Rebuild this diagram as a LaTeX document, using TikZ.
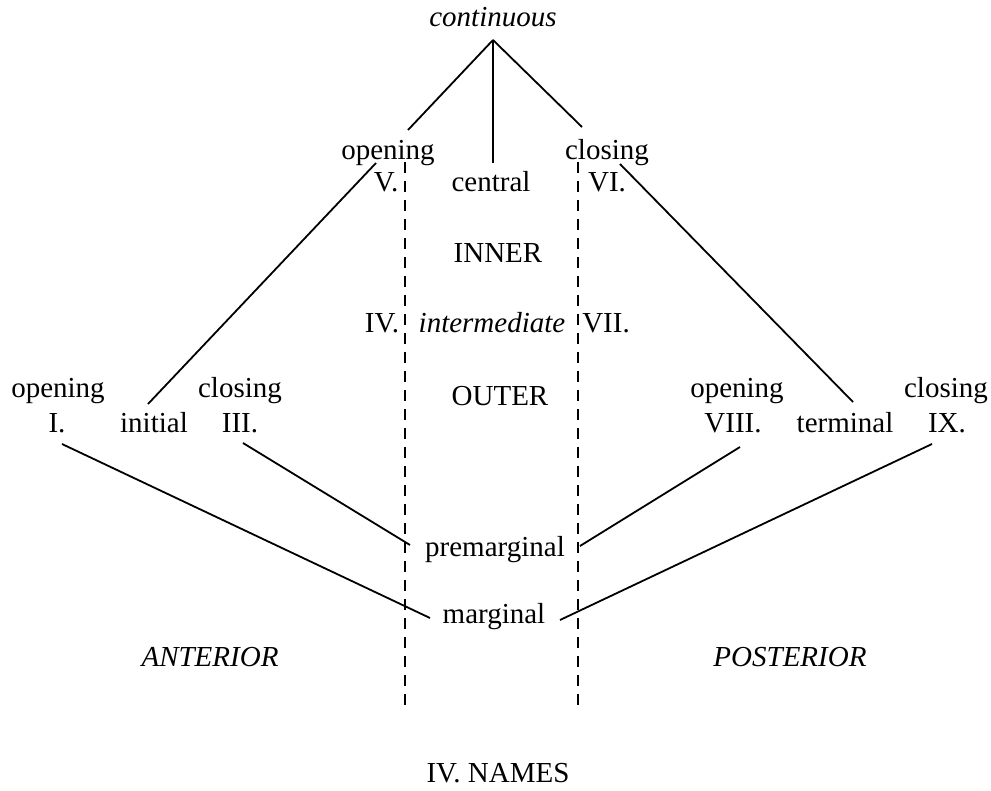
\documentclass[tikz,border=0pt]{standalone}
\usepackage{fontspec}
\setmainfont{Liberation Serif}
\begin{document}
\begin{tikzpicture}[x=1pt,y=-1pt,
  lbl/.style={inner sep=0pt,anchor=base,font=\fontsize{29}{34}\selectfont},
  it/.style={lbl,font=\fontsize{29}{34}\selectfont\itshape},
  link/.style={line width=1.8pt},
  sep/.style={line width=1.8pt,dash pattern=on 11pt off 8pt}]
\useasboundingbox[fill=white] (0,0) rectangle (991,791);

% labels
\node[it]  (cont)  at (493,27)  {continuous};
\node[lbl] (opT)   at (388,160) {opening};
\node[lbl] (clT)   at (607,160) {closing};
\node[lbl] (V)     at (386,192) {V.};
\node[lbl] (cent)  at (491,192) {central};
\node[lbl] (VI)    at (607,192) {VI.};
\node[lbl] (inner) at (498,263) {INNER};
\node[lbl] (IV)    at (382,333) {IV.};
\node[it]  (inter) at (492,333) {intermediate};
\node[lbl] (VII)   at (606,333) {VII.};
\node[lbl] (opI)   at (58,398)  {opening};
\node[lbl] (I)     at (57,433)  {I.};
\node[lbl] (init)  at (154,433) {initial};
\node[lbl] (clIII) at (240,398) {closing};
\node[lbl] (III)   at (240,433) {III.};
\node[lbl] (outer) at (500,406) {OUTER};
\node[lbl] (opVIII) at (737,398) {opening};
\node[lbl] (VIII)  at (733,433) {VIII.};
\node[lbl] (term)  at (845,433) {terminal};
\node[lbl] (clIX)  at (946,398) {closing};
\node[lbl] (IX)    at (947,433) {IX.};
\node[lbl] (prem)  at (495,556) {premarginal};
\node[lbl] (marg)  at (494,623) {marginal};
\node[it]  (ant)   at (210,666) {ANTERIOR};
\node[it]  (post)  at (790,666) {POSTERIOR};
\node[lbl] (names) at (498,782) {IV. NAMES};

% connector end points
\coordinate (apex)   at (493,40);
\coordinate (opTe)   at (408,130);
\coordinate (clTe)   at (582,127);
\coordinate (centE)  at (493,163);
\coordinate (Vs)     at (376,163);
\coordinate (initE)  at (148,404);
\coordinate (VIs)    at (620,164);
\coordinate (termE)  at (853,402);
\coordinate (Is)     at (62,444);
\coordinate (margL)  at (430,618);
\coordinate (IIIs)   at (243,443);
\coordinate (premL)  at (410,545);
\coordinate (VIIIs)  at (740,447);
\coordinate (premR)  at (580,546);
\coordinate (IXs)    at (932,444);
\coordinate (margR)  at (560,620);
\coordinate (dLt)    at (405,162);
\coordinate (dLb)    at (405,712);
\coordinate (dRt)    at (578,162);
\coordinate (dRb)    at (578,712);

% tree lines
\draw[link] (apex) -- (opTe);
\draw[link] (apex) -- (clTe);
\draw[link] (apex) -- (centE);
\draw[link] (Vs) -- (initE);
\draw[link] (VIs) -- (termE);
\draw[link] (Is) -- (margL);
\draw[link] (IIIs) -- (premL);
\draw[link] (VIIIs) -- (premR);
\draw[link] (IXs) -- (margR);

% dashed dividers
\draw[sep] (dLt) -- (dLb);
\draw[sep] (dRt) -- (dRb);
\end{tikzpicture}
\end{document}
